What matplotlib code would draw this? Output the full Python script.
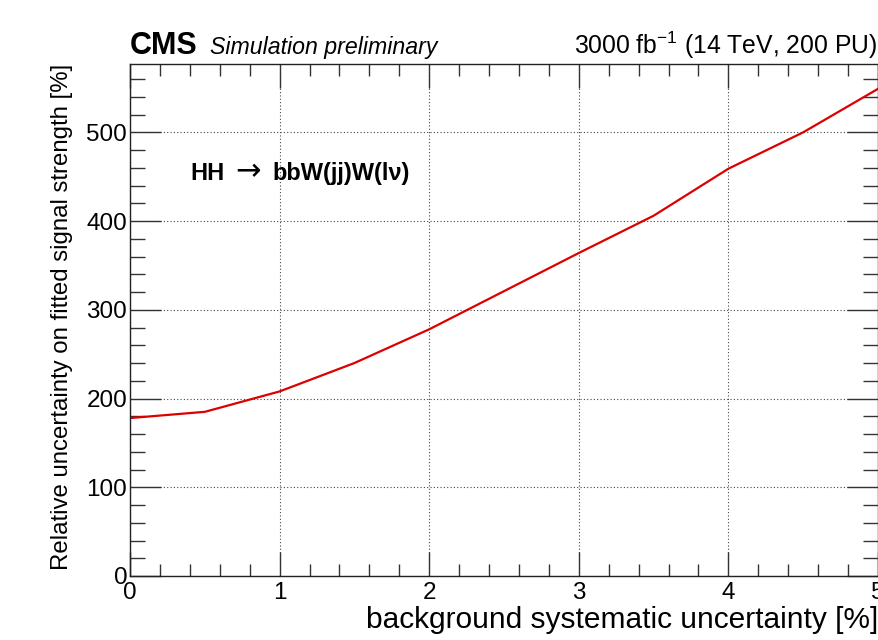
import matplotlib
matplotlib.use("Agg")
import matplotlib.pyplot as plt
from matplotlib.ticker import MultipleLocator
from matplotlib.offsetbox import HPacker, TextArea, AnchoredOffsetbox

plt.rcParams['font.family'] = ['Liberation Sans', 'DejaVu Sans']
plt.rcParams['mathtext.fontset'] = 'custom'
plt.rcParams['mathtext.rm'] = 'Liberation Sans'
plt.rcParams['mathtext.bf'] = 'Liberation Sans:bold'
plt.rcParams['mathtext.it'] = 'Liberation Sans:italic'

# Background systematic uncertainty scan
bkg_syst = [0.0, 0.5, 1.0, 1.5, 2.0, 2.5, 3.0, 3.5, 4.0, 4.5, 5.0]
rel_unc = [178, 185, 208, 240, 278, 321, 364, 406, 459, 500, 549]

x_ticks = [0, 1, 2, 3, 4, 5]
y_ticks = [0, 100, 200, 300, 400, 500]

fig = plt.figure(figsize=(8.79, 6.40), dpi=100)
ax = fig.add_axes([130 / 879, 1 - 576 / 640, 748 / 879, 512 / 640])

ax.plot(bkg_syst, rel_unc, color='#dd0000', lw=1.6, solid_joinstyle='round')

ax.set_xlim(0, 5)
ax.set_ylim(0, 577)
ax.set_xticks(x_ticks)
ax.set_yticks(y_ticks)
ax.xaxis.set_minor_locator(MultipleLocator(0.2))
ax.yaxis.set_minor_locator(MultipleLocator(20))

ax.grid(True, which='major', linestyle=(0, (1, 2)), color='#444444', lw=0.8)
ax.tick_params(which='both', direction='in', top=True, right=True,
               labelsize=17.5, color='#333333', width=1.0)
ax.tick_params(axis='y', which='major', length=22, pad=2)
ax.tick_params(axis='y', which='minor', length=11)
ax.tick_params(axis='x', which='major', length=17, pad=4)
ax.tick_params(axis='x', which='minor', length=8.5)
for s in ax.spines.values():
    s.set_color('#222222')
    s.set_linewidth(1.0)

ax.set_xlabel('background systematic uncertainty [%]', fontsize=21.5,
              loc='right', labelpad=2)
ax.set_ylabel('Relative uncertainty on fitted signal strength [%]',
              fontsize=17.3, loc='top', labelpad=10)

fig.text(130 / 879, 1 - 54 / 640, 'CMS', fontsize=22, fontweight='bold',
         ha='left', va='baseline')
fig.text(210 / 879, 1 - 54 / 640, 'Simulation preliminary', fontsize=16.7,
         style='italic', ha='left', va='baseline')
fig.text(877 / 879, 1 - 54 / 640, r'3000 fb$^{\mathregular{-1}}$ (14 TeV, 200 PU)',
         fontsize=17.8, ha='right', va='baseline')

# Process label: bold text with a regular-weight arrow
parts = [TextArea('HH', textprops=dict(fontsize=17, fontweight='bold')),
         TextArea('\u2192', textprops=dict(fontsize=22, fontweight='normal',
                                           family='DejaVu Sans')),
         TextArea('bbW(jj)W(l\u03bd)', textprops=dict(fontsize=17, fontweight='bold'))]
box = HPacker(children=parts, align='baseline', pad=0, sep=8)
anch = AnchoredOffsetbox(loc='lower left', child=box, frameon=False,
                         bbox_to_anchor=(190 / 879, 1 - 186 / 640),
                         bbox_transform=fig.transFigure, borderpad=0, pad=0)
ax.add_artist(anch)

fig.savefig('out.png', dpi=100)
